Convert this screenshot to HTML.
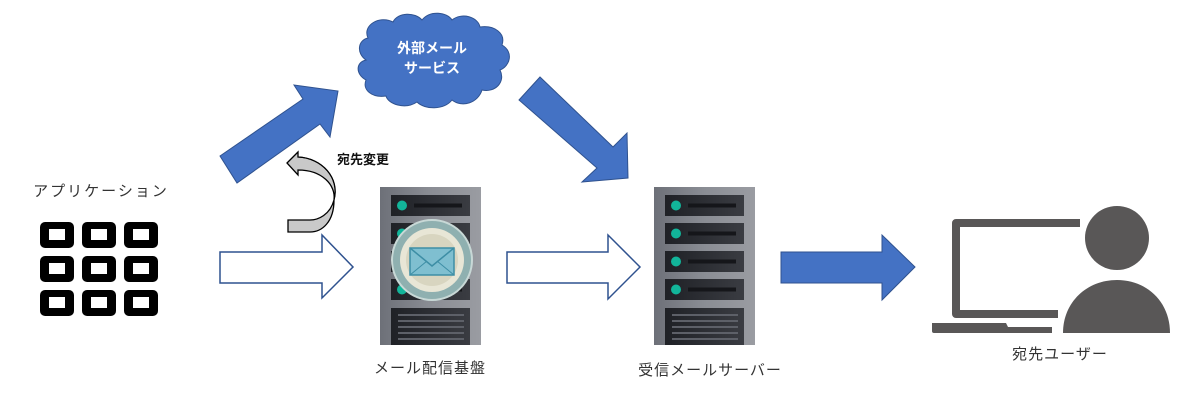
<!DOCTYPE html>
<html><head><meta charset="utf-8"><style>
html,body{margin:0;padding:0;background:#fff;}
svg{display:block;}
text{font-family:"Liberation Sans","Noto Sans CJK JP",sans-serif;}
</style></head><body>
<svg width="1200" height="401" viewBox="0 0 1200 401" xmlns="http://www.w3.org/2000/svg">
<defs>
<linearGradient id="sv" x1="0" x2="1" y1="0" y2="0">
<stop offset="0" stop-color="#6d7078"/><stop offset="0.5" stop-color="#8a8d94"/><stop offset="1" stop-color="#9a9ca2"/>
</linearGradient>
<linearGradient id="sl" x1="0" x2="1">
<stop offset="0" stop-color="#1f2126"/><stop offset="1" stop-color="#3a3c42"/>
</linearGradient>
<g id="server">
<rect x="0" y="0" width="101" height="158" fill="url(#sv)"/>
<g fill="url(#sl)">
<rect x="11" y="8" width="79" height="21"/>
<rect x="11" y="36" width="79" height="21"/>
<rect x="11" y="64" width="79" height="21"/>
<rect x="11" y="92" width="79" height="21"/>
<rect x="11" y="121" width="79" height="37"/>
</g>
<g fill="#12b59a"><circle cx="22" cy="18.5" r="5"/><circle cx="22" cy="46.5" r="5"/><circle cx="22" cy="74.5" r="5"/><circle cx="22" cy="102.5" r="5"/></g>
<g fill="#15161a"><rect x="34" y="16.5" width="48" height="4"/><rect x="34" y="44.5" width="48" height="4"/><rect x="34" y="72.5" width="48" height="4"/><rect x="34" y="100.5" width="48" height="4"/></g>
<g fill="#5d6068"><rect x="18" y="127" width="66" height="2"/><rect x="18" y="133" width="66" height="2"/><rect x="18" y="139" width="66" height="2"/><rect x="18" y="145" width="66" height="2"/><rect x="18" y="151" width="66" height="2"/></g>
</g>
</defs>

<!-- app grid -->
<text x="101" y="196" font-size="15" fill="#333" text-anchor="middle" letter-spacing="2">アプリケーション</text>
<g fill="#000">
<g id="row">
<rect x="40" y="222" width="34" height="26" rx="5"/>
<rect x="82" y="222" width="34" height="26" rx="5"/>
<rect x="124" y="222" width="34" height="26" rx="5"/>
</g>
<use href="#row" y="34"/><use href="#row" y="68"/>
</g>
<g fill="#fff">
<g id="rowh"><rect x="49" y="229" width="16" height="11"/><rect x="91" y="229" width="16" height="11"/><rect x="133" y="229" width="16" height="11"/></g>
<use href="#rowh" y="34"/><use href="#rowh" y="68"/>
</g>

<!-- up arrow -->
<polygon points="220,156 303,99 294,85 338,91 330,137 320,124 237,183" fill="#4472c4" stroke="#2f528f" stroke-width="1"/>

<!-- cloud -->
<path d="M368,38 C362,25 380,15 393,22 C398,12 415,12 422,20 C430,10 447,12 452,20 C462,12 478,17 480,27 C494,25 506,33 502,45 C514,52 510,66 500,70 C506,82 495,93 482,90 C478,103 462,108 452,100 C444,110 425,110 417,102 C405,110 388,104 386,96 C372,98 362,90 366,80 C355,74 356,62 366,60 C356,53 358,40 368,38 Z" fill="#4472c4" stroke="#2f528f" stroke-width="1"/>
<text x="432" y="53" font-size="14" font-weight="bold" fill="#fff" text-anchor="middle">外部メール</text>
<text x="432" y="73" font-size="14" font-weight="bold" fill="#fff" text-anchor="middle">サービス</text>

<!-- down arrow -->
<polygon points="540,77 613,147 627,133 628,178 582,182 597,168 519,100" fill="#4472c4" stroke="#2f528f" stroke-width="1"/>

<!-- curved arrow -->
<path d="M287,163 L298,152 L298,157 C322,158 340,178 334,200 C330,215 318,220 310,220 L288,220 L288,232 L310,232 C322,232 334,222 334,200 C336,185 322,170 298,170 L298,175 Z" fill="#c9c9c9" stroke="#000" stroke-width="1.3"/>
<path d="M298,157 C322,158 340,178 334,200" fill="none" stroke="#000" stroke-width="1" />
<text x="337" y="164" font-size="13" font-weight="bold" fill="#111">宛先変更</text>

<!-- hollow arrows -->
<polygon points="220,252 322,252 322,235 353,267 322,298 322,283 220,283" fill="#fff" stroke="#2f528f" stroke-width="1.5"/>
<polygon points="507,252 608,252 608,235 640,267 608,299 608,283 507,283" fill="#fff" stroke="#2f528f" stroke-width="1.5"/>

<!-- servers -->
<use href="#server" x="380" y="187"/>
<use href="#server" x="654" y="187"/>
<!-- mail badge -->
<circle cx="432" cy="260" r="40" fill="#8fb0b0" stroke="#c8d8d6" stroke-width="2"/>
<circle cx="432" cy="260" r="32" fill="#e8e6d6"/>
<circle cx="432" cy="260" r="26" fill="#d8d5c0"/>
<rect x="410" y="248" width="44" height="27" fill="#7fbfd0" stroke="#3d8ea5" stroke-width="1.5"/>
<polyline points="410,248 432,266 454,248" fill="none" stroke="#3d8ea5" stroke-width="1.5"/>
<line x1="410" y1="275" x2="427" y2="261" stroke="#3d8ea5" stroke-width="1"/>
<line x1="454" y1="275" x2="437" y2="261" stroke="#3d8ea5" stroke-width="1"/>

<text x="430" y="373" font-size="15" fill="#333" text-anchor="middle" letter-spacing="1">メール配信基盤</text>
<text x="710" y="375" font-size="15" fill="#333" text-anchor="middle" letter-spacing="1">受信メールサーバー</text>

<!-- solid arrow -->
<polygon points="781,252 882,252 882,235 915,267 882,300 882,283 781,283" fill="#4472c4" stroke="#2f528f" stroke-width="1"/>

<!-- laptop + person -->
<g fill="#595757">
<path d="M952,223 a4,4 0 0 1 4,-4 H1080 V227 H960 V310 H1058 V318 H956 a4,4 0 0 1 -4,-4 Z"/>
<path d="M932,323 H1006 L1008,327 H1052 V333 H934 a2,2 0 0 1 -2,-2 Z"/>
<circle cx="1117" cy="238" r="32"/>
<path d="M1063,333 C1063,302 1087,280 1117,280 C1147,280 1170,302 1170,333 Z"/>
</g>
<text x="1060" y="359" font-size="15" fill="#333" text-anchor="middle" letter-spacing="1">宛先ユーザー</text>
</svg>
</body></html>
